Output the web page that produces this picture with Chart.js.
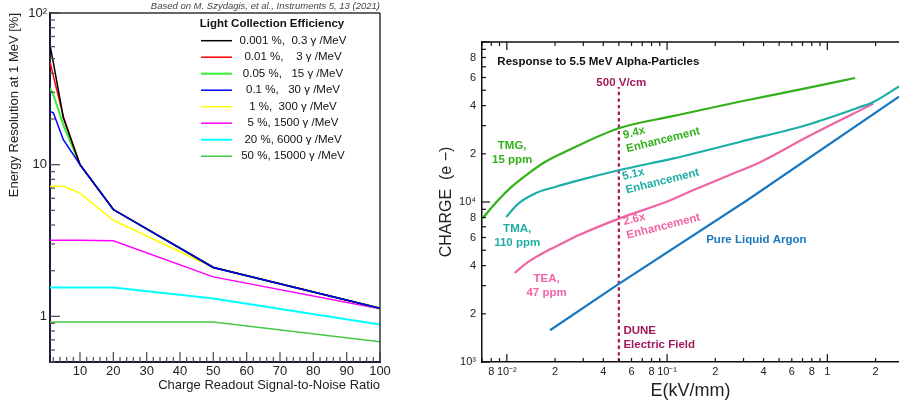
<!DOCTYPE html>
<html>
<head>
<meta charset="utf-8">
<script src="https://cdn.jsdelivr.net/npm/chart.js@4.4.1/dist/chart.umd.min.js"></script>
<style>
  html, body { margin: 0; padding: 0; background: #fff; overflow: hidden; }
  #wrap { position: relative; width: 899px; height: 402px; }
  #resChart { position: absolute; left: 0; top: 0; }
  #chargeChart { position: absolute; left: 430px; top: 0; }
</style>
</head>
<body>
<div id="wrap">
  <canvas id="resChart" width="425" height="402"></canvas>
  <canvas id="chargeChart" width="469" height="402"></canvas>
</div>
<script>
// ---- left panel: energy resolution vs charge S/N ----
const snr = [1, 2, 5, 10, 20, 50, 100];
const lceLabels = [
  '0.001 %,  0.3 γ /MeV',
  '0.01 %,    3 γ /MeV',
  '0.05 %,   15 γ /MeV',
  '0.1 %,   30 γ /MeV',
  '1 %,  300 γ /MeV',
  '5 %, 1500 γ /MeV',
  '20 %, 6000 γ /MeV',
  '50 %, 15000 γ /MeV'
];
const lceColors = ['#000000', '#ff0000', '#33f033', '#0000ff', '#ffff00', '#ff00ff', '#00ffff', '#44c844'];
const lceWidths = [1.5, 1.5, 2, 1.5, 1.5, 1.5, 2, 1.5];
const res0001 = [61.5, 47, 20.4, 10, 5.06, 2.1, 1.13];
const res001 = [47.8, 38.5, 20.8, 10, 5.06, 2.1, 1.13];
const res005 = [32, 29, 18.3, 10, 5.06, 2.1, 1.13];
const res01 = [22.4, 22, 14.6, 10, 5.06, 2.1, 1.13];
const res1 = [7.2, 7.2, 7.2, 6.5, 4.3, 2.1, 1.13];
const res5 = [3.18, 3.18, 3.18, 3.17, 3.15, 1.82, 1.12];
const res20 = [1.55, 1.55, 1.55, 1.55, 1.55, 1.31, 0.885];
const res50 = [0.917, 0.917, 0.917, 0.917, 0.917, 0.917, 0.68];
const snrTicks = [10, 20, 30, 40, 50, 60, 70, 80, 90, 100];
const snrTickLabels = ['10', '20', '30', '40', '50', '60', '70', '80', '90', '100'];
const resTicks = [1, 10, 100];
const resTickLabels = ['1', '10', '10²'];

// ---- right panel: charge vs drift field ----
const tmgField = [0.00702, 0.00882, 0.0107, 0.0136, 0.0173, 0.0242, 0.05, 0.11, 0.287, 0.743, 1.49];
const tmgCharge = [7870, 10250, 12420, 15050, 17780, 21050, 28900, 34500, 42500, 51500, 59600];
const tmaField = [0.0099, 0.0118, 0.0149, 0.02, 0.028, 0.05, 0.11, 0.287, 0.743, 1.53, 1.94, 2.8];
const tmaCharge = [8050, 9770, 11280, 12420, 13660, 15800, 18740, 23800, 30300, 38600, 42200, 52700];
const teaField = [0.0112, 0.0136, 0.0173, 0.022, 0.028, 0.05, 0.105, 0.15, 0.24, 0.383, 0.743, 1.94];
const teaCharge = [3600, 4220, 4870, 5500, 6190, 7870, 10250, 12000, 14600, 17800, 25400, 41200];
const larField = [0.0186, 0.05, 0.316, 2.8];
const larCharge = [1580, 3075, 10250, 45600];
const duneField = [0.05, 0.05];
const duneCharge = [1000, 52300];
const fieldTicks = [0.008, 0.01, 0.02, 0.04, 0.06, 0.08, 0.1, 0.2, 0.4, 0.6, 0.8, 1, 2];
const fieldTickLabels = ['8', '10⁻²', '2', '4', '6', '8', '10⁻¹', '2', '4', '6', '8', '1', '2'];
const chargeTicks = [1e3, 2e3, 4e3, 6e3, 8e3, 1e4, 2e4, 4e4, 6e4, 8e4];
const chargeTickLabels = ['10³', '2', '4', '6', '8', '10⁴', '2', '4', '6', '8'];

const cTMG = '#33b01c', cTMA = '#1eaea6', cTEA = '#f064a6', cLAr = '#1a78c0', cDUNE = '#a3195b';

const notes = [
  { lines: ['Response to 5.5 MeV Alpha-Particles'], e: 0.00873, q: 75000, color: '#111' },
  { lines: ['500 V/cm'], e: 0.0518, q: 55800, color: cDUNE, align: 'center' },
  { lines: ['TMG,', '15 ppm'], e: 0.0108, q: 22400, color: cTMG, align: 'center' },
  { lines: ['9.4x', 'Enhancement'], e: 0.0532, q: 26000, color: cTMG, rot: -14 },
  { lines: ['5.1x', 'Enhancement'], e: 0.0527, q: 14340, color: cTMA, rot: -14 },
  { lines: ['2.6x', 'Enhancement'], e: 0.0534, q: 7500, color: cTEA, rot: -14 },
  { lines: ['TMA,', '110 ppm'], e: 0.0116, q: 6820, color: cTMA, align: 'center' },
  { lines: ['TEA,', '47 ppm'], e: 0.0177, q: 3320, color: cTEA, align: 'center' },
  { lines: ['Pure Liquid Argon'], e: 0.1754, q: 5820, color: cLAr, size: 11.5 },
  { lines: ['DUNE', 'Electric Field'], e: 0.0534, q: 1555, color: cDUNE }
];

Chart.defaults.font.family = '"Liberation Sans", Arial, Helvetica, sans-serif';
Chart.defaults.color = '#222';

function tickValues(s, ax) {
  const out = [];
  if (s.type === 'logarithmic') {
    const e0 = Math.floor(Math.log10(s.min)), e1 = Math.ceil(Math.log10(s.max));
    for (let e = e0; e <= e1; e++) {
      for (let k = 1; k < 10; k++) {
        const v = k * Math.pow(10, e);
        if (v >= s.min * 0.9999 && v <= s.max * 1.0001) out.push({ v, major: k === 1 });
      }
    }
  } else {
    for (let v = Math.ceil(s.min / ax.step) * ax.step; v <= s.max + 1e-9; v += ax.step) {
      out.push({ v, major: Math.abs(v % ax.majorStep) < 1e-9 });
    }
  }
  return out;
}

// ticks pointing into the plot, plus the frame lines
const inTicks = {
  id: 'inTicks',
  afterDatasetsDraw(chart, args, opts) {
    const ctx = chart.ctx, a = chart.chartArea;
    ctx.save();
    ctx.strokeStyle = opts.color;
    ctx.lineWidth = opts.width;
    for (const ax of opts.axes) {
      const s = chart.scales[ax.scale];
      for (const t of tickValues(s, ax)) {
        const p = s.getPixelForValue(t.v);
        const len = t.major ? ax.major : ax.minor;
        ctx.beginPath();
        if (ax.side === 'bottom') { ctx.moveTo(p, a.bottom); ctx.lineTo(p, a.bottom - len); }
        else if (ax.side === 'top') { ctx.moveTo(p, a.top); ctx.lineTo(p, a.top + len); }
        else { ctx.moveTo(a.left, p); ctx.lineTo(a.left + len, p); }
        ctx.stroke();
      }
    }
    ctx.strokeStyle = opts.frameColor;
    ctx.lineWidth = opts.frameWidth;
    for (const side of opts.frame) {
      ctx.beginPath();
      if (side === 'top') { ctx.moveTo(a.left, a.top); ctx.lineTo(a.right, a.top); }
      if (side === 'right') { ctx.moveTo(a.right, a.top); ctx.lineTo(a.right, a.bottom); }
      ctx.stroke();
    }
    ctx.restore();
  }
};

// legend drawn inside the plot, read from the datasets
const boxLegend = {
  id: 'boxLegend',
  afterDraw(chart, args, opts) {
    if (!opts.show) return;
    const ctx = chart.ctx;
    ctx.save();
    ctx.textBaseline = 'middle';
    ctx.textAlign = 'center';
    ctx.fillStyle = '#111';
    ctx.font = 'bold 11.5px "Liberation Sans", Arial, sans-serif';
    ctx.fillText(opts.title, opts.x + 71, opts.y);
    ctx.font = '11.5px "Liberation Sans", Arial, sans-serif';
    chart.data.datasets.forEach((ds, i) => {
      const y = opts.y + 16.7 + i * 16.5;
      ctx.strokeStyle = ds.borderColor;
      ctx.lineWidth = ds.borderWidth;
      ctx.beginPath();
      ctx.moveTo(opts.x, y);
      ctx.lineTo(opts.x + 31, y);
      ctx.stroke();
      ctx.fillText(ds.label, opts.x + 92, y);
    });
    ctx.restore();
  }
};

// text notes placed at data coordinates
const notesPlugin = {
  id: 'notes',
  afterDatasetsDraw(chart, args, opts) {
    if (!opts.items) return;
    const ctx = chart.ctx, x = chart.scales.x, y = chart.scales.y;
    for (const n of opts.items) {
      ctx.save();
      ctx.translate(x.getPixelForValue(n.e), y.getPixelForValue(n.q));
      if (n.rot) ctx.rotate(n.rot * Math.PI / 180);
      ctx.font = 'bold ' + (n.size || 11.5) + 'px "Liberation Sans", Arial, sans-serif';
      ctx.fillStyle = n.color;
      ctx.textAlign = n.align || 'left';
      ctx.textBaseline = 'middle';
      n.lines.forEach((t, i) => ctx.fillText(t, 0, i * 14));
      ctx.restore();
    }
  }
};

Chart.register(inTicks, boxLegend, notesPlugin);

const lceSeries = [res0001, res001, res005, res01, res1, res5, res20, res50];

new Chart(document.getElementById('resChart'), {
  type: 'line',
  data: {
    datasets: lceSeries.map((vals, i) => ({
      label: lceLabels[i],
      data: vals.map((v, j) => ({ x: snr[j], y: v })),
      borderColor: lceColors[i],
      borderWidth: lceWidths[i],
      pointRadius: 0,
      tension: 0,
      order: i === 3 ? -1 : i
    }))
  },
  options: {
    responsive: false,
    animation: false,
    layout: { padding: { left: 0, top: 0, right: 45, bottom: 0 } },
    plugins: {
      legend: { display: false },
      tooltip: { enabled: false },
      title: {
        display: true,
        text: 'Based on M. Szydagis, et al., Instruments 5, 13 (2021)',
        align: 'end',
        color: '#444',
        font: { size: 9.5, style: 'italic', weight: 'normal' },
        padding: { top: 1, bottom: 0.6 }
      },
      boxLegend: { show: true, title: 'Light Collection Efficiency', x: 201, y: 24 },
      inTicks: {
        color: '#555', width: 1.3,
        axes: [
          { scale: 'x', side: 'bottom', step: 2, majorStep: 10, major: 10, minor: 5 },
          { scale: 'y', side: 'left', major: 10, minor: 5 }
        ],
        frame: ['top', 'right'], frameColor: '#333', frameWidth: 1.5
      }
    },
    scales: {
      x: {
        type: 'linear', min: 1, max: 100,
        afterFit: (s) => { s.height = 40; },
        afterBuildTicks: (s) => { s.ticks = snrTicks.map(v => ({ value: v })); },
        ticks: { callback: (v, i) => snrTickLabels[i], autoSkip: false, maxRotation: 0, padding: 2, color: '#222', font: { size: 13 } },
        grid: { display: false, drawTicks: false },
        border: { color: '#1c1c3a', width: 2 },
        title: {
          display: true, text: 'Charge Readout Signal-to-Noise Ratio', align: 'end',
          color: '#222', font: { size: 13 }, padding: { top: 0, bottom: 9 }
        }
      },
      y: {
        type: 'logarithmic', min: 0.5, max: 100,
        afterFit: (s) => { s.width = 50; },
        afterBuildTicks: (s) => { s.ticks = resTicks.map(v => ({ value: v })); },
        ticks: { callback: (v, i) => resTickLabels[i], autoSkip: false, padding: 3, color: '#222', font: { size: 13 } },
        grid: { display: false, drawTicks: false },
        border: { color: '#1c1c3a', width: 2 },
        title: {
          display: true, text: 'Energy Resolution at 1 MeV [%]', align: 'end',
          color: '#222', font: { size: 13 }, padding: { top: 7, bottom: 0 }
        }
      }
    }
  }
});

const pts = (xs, ys) => xs.map((v, i) => ({ x: v, y: ys[i] }));

new Chart(document.getElementById('chargeChart'), {
  type: 'line',
  data: {
    datasets: [
      { label: 'TMG, 15 ppm', data: pts(tmgField, tmgCharge), borderColor: cTMG },
      { label: 'TMA, 110 ppm', data: pts(tmaField, tmaCharge), borderColor: cTMA },
      { label: 'TEA, 47 ppm', data: pts(teaField, teaCharge), borderColor: cTEA },
      { label: 'Pure Liquid Argon', data: pts(larField, larCharge), borderColor: cLAr, cubicInterpolationMode: 'default', tension: 0 },
      { label: 'DUNE Electric Field', data: pts(duneField, duneCharge), borderColor: cDUNE, borderDash: [3.5, 3], tension: 0 }
    ].map(d => Object.assign({ borderWidth: 2.2, pointRadius: 0, cubicInterpolationMode: 'monotone' }, d))
  },
  options: {
    responsive: false,
    animation: false,
    layout: { padding: { left: 0, top: 42, right: 0, bottom: 0 } },
    plugins: {
      legend: { display: false },
      tooltip: { enabled: false },
      notes: { items: notes },
      inTicks: {
        color: '#111', width: 1.2,
        axes: [
          { scale: 'x', side: 'bottom', major: 8, minor: 4 },
          { scale: 'x', side: 'top', major: 8, minor: 4 },
          { scale: 'y', side: 'left', major: 8, minor: 4 }
        ],
        frame: ['top'], frameColor: '#111', frameWidth: 1.5
      }
    },
    scales: {
      x: {
        type: 'logarithmic', min: 0.007, max: 2.8,
        afterFit: (s) => { s.height = 40; },
        afterBuildTicks: (s) => { s.ticks = fieldTicks.map(v => ({ value: v })); },
        ticks: { callback: (v, i) => fieldTickLabels[i], autoSkip: false, maxRotation: 0, padding: 3, color: '#222', font: { size: 11 } },
        grid: { display: false, drawTicks: false },
        border: { color: '#111', width: 1.5 },
        title: { display: true, text: 'E(kV/mm)', color: '#222', font: { size: 18 }, padding: { top: 0, bottom: 0 } }
      },
      y: {
        type: 'logarithmic', min: 1000, max: 100000,
        afterFit: (s) => { s.width = 52; },
        afterBuildTicks: (s) => { s.ticks = chargeTicks.map(v => ({ value: v })); },
        ticks: { callback: (v, i) => chargeTickLabels[i], autoSkip: false, padding: 6, color: '#222', font: { size: 11 } },
        grid: { display: false, drawTicks: false },
        border: { color: '#111', width: 1.5 },
        title: { display: true, text: 'CHARGE  (e −)', color: '#222', font: { size: 16 }, padding: { top: 7, bottom: 0 } }
      }
    }
  }
});
</script>
</body>
</html>
